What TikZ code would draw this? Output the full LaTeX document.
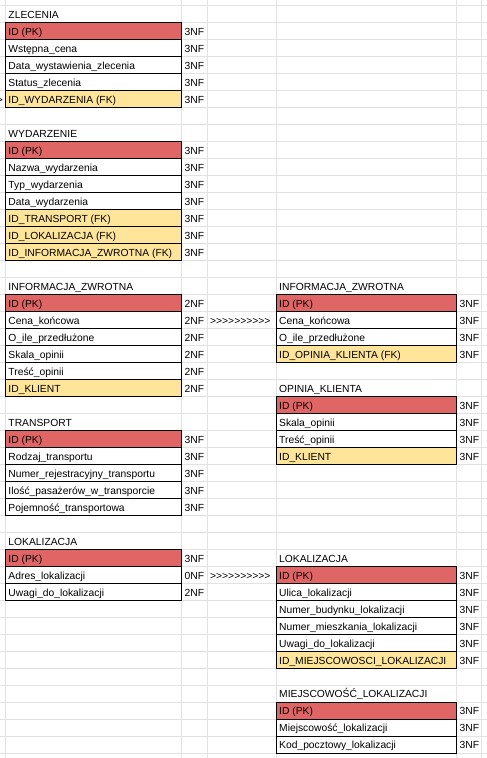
\documentclass[tikz,border=0pt]{standalone}
\usepackage{fontspec}
\setmainfont{Liberation Sans}
\definecolor{pkred}{HTML}{E06666}
\definecolor{fkyel}{HTML}{FFE599}
\definecolor{grid}{HTML}{E2E2E2}
\pgfdeclarelayer{bg}
\pgfsetlayers{bg,main}
\tikzset{
  txt/.style={anchor=base west, inner sep=0pt, font=\fontsize{10.3}{12}\selectfont, text=black},
  gridline/.style={draw=grid, line width=0.9pt},
  tborder/.style={draw=black, line width=0.95pt},
}
\newcommand\yrow[1]{5.7+16.99*(#1)}
% name, xl, xr, row, fill, text, nf
\newcommand\cellrow[7]{%
  \pgfmathsetmacro\ytop{5.7+16.99*#4}%
  \pgfmathsetmacro\ybot{5.7+16.99*(#4+1)}%
  \begin{pgfonlayer}{bg}
    \fill[#5] (#2,\ytop) rectangle (#3,\ybot);
  \end{pgfonlayer}
  \draw[tborder] (#2,\ytop) rectangle (#3,\ybot);
  \node[txt] (#1) at ({#2+3},{\ybot-4.3}) {#6};
  \node[txt] (#1nf) at ({#3+2.7},{\ybot-4.3}) {#7};
}
% name, xl, row, text
\newcommand\ttl[4]{%
  \pgfmathsetmacro\ybot{5.7+16.99*(#3+1)}%
  \node[txt] (#1) at ({#2+3},{\ybot-4.3}) {#4};
}
\begin{document}
\begin{tikzpicture}[x=1pt,y=-1pt]
\useasboundingbox (0,0) rectangle (487,758);
\begin{pgfonlayer}{bg}
  \fill[white] (0,0) rectangle (487,758);
  \foreach \k in {0,...,44} {
    \draw[gridline] (0,{5.7+16.99*\k}) -- (487,{5.7+16.99*\k});
  }
  \foreach \x in {5.3,181.7,207.3,276,456.7,481.5} {
    \draw[gridline] (\x,0) -- (\x,758);
  }
\end{pgfonlayer}

% fragment of overflowing text at the far left
\begin{scope}
  \clip (0,{5.7+16.99*5}) rectangle (4.8,{5.7+16.99*6});
  \node[txt, anchor=base east] (frag) at (3.2,{5.7+16.99*6-4.3}) {>};
\end{scope}

% ZLECENIA
\ttl{tz}{5.3}{0}{ZLECENIA}
\cellrow{z1}{5.3}{181.7}{1}{pkred}{ID (PK)}{3NF}
\cellrow{z2}{5.3}{181.7}{2}{white}{Wstępna\_cena}{3NF}
\cellrow{z3}{5.3}{181.7}{3}{white}{Data\_wystawienia\_zlecenia}{3NF}
\cellrow{z4}{5.3}{181.7}{4}{white}{Status\_zlecenia}{3NF}
\cellrow{z5}{5.3}{181.7}{5}{fkyel}{ID\_WYDARZENIA (FK)}{3NF}

% WYDARZENIE
\ttl{tw}{5.3}{7}{WYDARZENIE}
\cellrow{w1}{5.3}{181.7}{8}{pkred}{ID (PK)}{3NF}
\cellrow{w2}{5.3}{181.7}{9}{white}{Nazwa\_wydarzenia}{3NF}
\cellrow{w3}{5.3}{181.7}{10}{white}{Typ\_wydarzenia}{3NF}
\cellrow{w4}{5.3}{181.7}{11}{white}{Data\_wydarzenia}{3NF}
\cellrow{w5}{5.3}{181.7}{12}{fkyel}{ID\_TRANSPORT (FK)}{3NF}
\cellrow{w6}{5.3}{181.7}{13}{fkyel}{ID\_LOKALIZACJA (FK)}{3NF}
\cellrow{w7}{5.3}{181.7}{14}{fkyel}{ID\_INFORMACJA\_ZWROTNA (FK)}{3NF}

% INFORMACJA_ZWROTNA (left, 2NF)
\ttl{ti}{5.3}{16}{INFORMACJA\_ZWROTNA}
\cellrow{i1}{5.3}{181.7}{17}{pkred}{ID (PK)}{2NF}
\cellrow{i2}{5.3}{181.7}{18}{white}{Cena\_końcowa}{2NF}
\cellrow{i3}{5.3}{181.7}{19}{white}{O\_ile\_przedłużone}{2NF}
\cellrow{i4}{5.3}{181.7}{20}{white}{Skala\_opinii}{2NF}
\cellrow{i5}{5.3}{181.7}{21}{white}{Treść\_opinii}{2NF}
\cellrow{i6}{5.3}{181.7}{22}{fkyel}{ID\_KLIENT}{2NF}

% TRANSPORT
\ttl{tt}{5.3}{24}{TRANSPORT}
\cellrow{t1}{5.3}{181.7}{25}{pkred}{ID (PK)}{3NF}
\cellrow{t2}{5.3}{181.7}{26}{white}{Rodzaj\_transportu}{3NF}
\cellrow{t3}{5.3}{181.7}{27}{white}{Numer\_rejestracyjny\_transportu}{3NF}
\cellrow{t4}{5.3}{181.7}{28}{white}{Ilość\_pasażerów\_w\_transporcie}{3NF}
\cellrow{t5}{5.3}{181.7}{29}{white}{Pojemność\_transportowa}{3NF}

% LOKALIZACJA (left)
\ttl{tl}{5.3}{31}{LOKALIZACJA}
\cellrow{l1}{5.3}{181.7}{32}{pkred}{ID (PK)}{3NF}
\cellrow{l2}{5.3}{181.7}{33}{white}{Adres\_lokalizacji}{0NF}
\cellrow{l3}{5.3}{181.7}{34}{white}{Uwagi\_do\_lokalizacji}{2NF}

% arrows as text
\node[txt] (arr1) at (210,{5.7+16.99*19-4.3}) {>{}>{}>{}>{}>{}>{}>{}>{}>{}>};
\node[txt] (arr2) at (210,{5.7+16.99*34-4.3}) {>{}>{}>{}>{}>{}>{}>{}>{}>{}>};

% INFORMACJA_ZWROTNA (right, 3NF)
\ttl{tri}{276}{16}{INFORMACJA\_ZWROTNA}
\cellrow{ri1}{276}{456.7}{17}{pkred}{ID (PK)}{3NF}
\cellrow{ri2}{276}{456.7}{18}{white}{Cena\_końcowa}{3NF}
\cellrow{ri3}{276}{456.7}{19}{white}{O\_ile\_przedłużone}{3NF}
\cellrow{ri4}{276}{456.7}{20}{fkyel}{ID\_OPINIA\_KLIENTA (FK)}{3NF}

% OPINIA_KLIENTA
\ttl{tro}{276}{22}{OPINIA\_KLIENTA}
\cellrow{ro1}{276}{456.7}{23}{pkred}{ID (PK)}{3NF}
\cellrow{ro2}{276}{456.7}{24}{white}{Skala\_opinii}{3NF}
\cellrow{ro3}{276}{456.7}{25}{white}{Treść\_opinii}{3NF}
\cellrow{ro4}{276}{456.7}{26}{fkyel}{ID\_KLIENT}{3NF}

% LOKALIZACJA (right)
\ttl{trl}{276}{32}{LOKALIZACJA}
\cellrow{rl1}{276}{456.7}{33}{pkred}{ID (PK)}{3NF}
\cellrow{rl2}{276}{456.7}{34}{white}{Ulica\_lokalizacji}{3NF}
\cellrow{rl3}{276}{456.7}{35}{white}{Numer\_budynku\_lokalizacji}{3NF}
\cellrow{rl4}{276}{456.7}{36}{white}{Numer\_mieszkania\_lokalizacji}{3NF}
\cellrow{rl5}{276}{456.7}{37}{white}{Uwagi\_do\_lokalizacji}{3NF}
\cellrow{rl6}{276}{456.7}{38}{fkyel}{ID\_MIEJSCOWOSCI\_LOKALIZACJI}{3NF}

% MIEJSCOWOSC_LOKALIZACJI
\ttl{trm}{276}{40}{MIEJSCOWOŚĆ\_LOKALIZACJI}
\cellrow{rm1}{276}{456.7}{41}{pkred}{ID (PK)}{3NF}
\cellrow{rm2}{276}{456.7}{42}{white}{Miejscowość\_lokalizacji}{3NF}
\cellrow{rm3}{276}{456.7}{43}{white}{Kod\_pocztowy\_lokalizacji}{3NF}
\end{tikzpicture}
\end{document}
